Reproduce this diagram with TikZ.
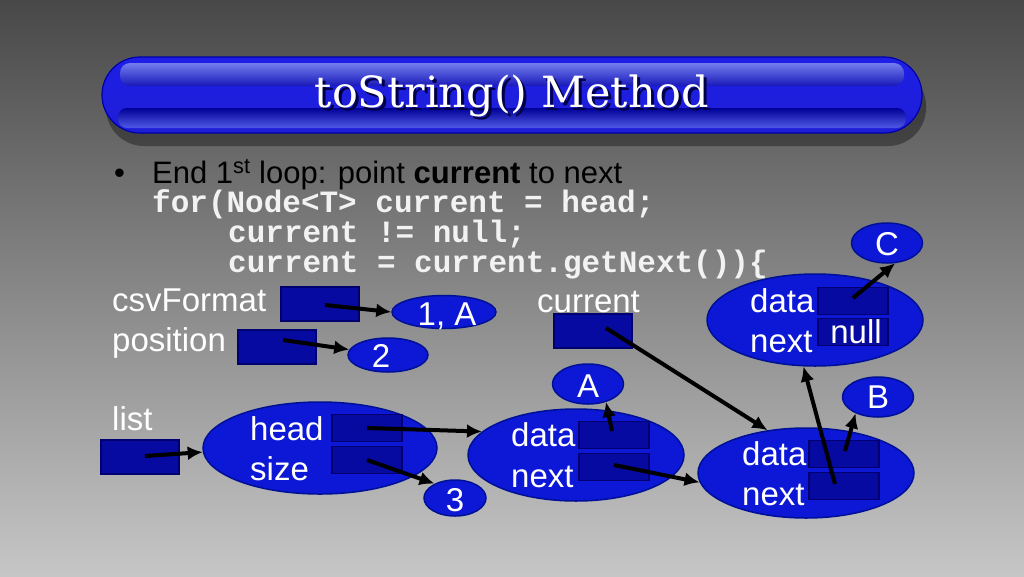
\documentclass[tikz,border=0pt]{standalone}
\usepackage{fontspec}
\setmainfont{Liberation Sans}
\newfontfamily\codefont{Liberation Mono}
\newfontfamily\titlefont{DejaVu Serif}
\usetikzlibrary{shapes.geometric,arrows.meta}
\definecolor{ellfill}{RGB}{12,24,214}
\definecolor{elldraw}{RGB}{0,16,150}
\definecolor{boxfill}{RGB}{6,10,160}
\definecolor{boxdraw}{RGB}{0,0,110}
\definecolor{tshadow}{RGB}{0,0,70}
\tikzset{
  ell/.style={ellipse, fill=ellfill, draw=elldraw, line width=1.5pt, inner sep=0pt},
  bigbox/.style={rectangle, fill=boxfill, draw=boxdraw, line width=1.5pt, minimum width=78pt, minimum height=34pt, inner sep=0pt},
  cell/.style={rectangle, fill=boxfill, draw=boxdraw, line width=1.5pt, minimum width=70pt, minimum height=27pt, inner sep=0pt},
  lbl/.style={anchor=base west, inner sep=0pt, text=white, font=\fontsize{33}{38}\selectfont},
  clbl/.style={anchor=base, inner sep=0pt, text=white, font=\fontsize{33}{38}\selectfont},
  ptr/.style={line width=4pt, -{Latex[length=15pt,width=14pt]}},
  codeline/.style={anchor=base west, inner sep=0pt, text={rgb,255:red,242;green,242;blue,242}, font=\codefont\bfseries\fontsize{31}{36}\selectfont},
}
\begin{document}
\begin{tikzpicture}[x=1pt,y=-1pt]
\useasboundingbox (0,0) rectangle (1024,576);
% background
\shade[top color={rgb,255:red,72;green,72;blue,72}, bottom color={rgb,255:red,198;green,198;blue,198}] (0,0) rectangle (1024,576);
% title bar
\fill[black,opacity=0.35,rounded corners=38pt] (106,68) rectangle (926,146);
\shade[rounded corners=38pt, top color={rgb,255:red,30;green,30;blue,230}, middle color={rgb,255:red,0;green,0;blue,150}, bottom color={rgb,255:red,30;green,30;blue,215}] (102,57) rectangle (922,133);
\draw[rounded corners=38pt, draw={rgb,255:red,0;green,0;blue,170}, line width=1.2pt] (102,57) rectangle (922,133);
\shade[rounded corners=10pt, top color={rgb,255:red,115;green,125;blue,238}, bottom color={rgb,255:red,25;green,25;blue,185}] (120,63) rectangle (904,86);
\shade[rounded corners=9pt, top color={rgb,255:red,0;green,0;blue,150}, bottom color={rgb,255:red,80;green,90;blue,230}] (118,108) rectangle (906,128);
\node[inner sep=0pt, text=white, font=\titlefont\fontsize{43}{48}\selectfont] (title) at (512,97)
  {\rlap{\hspace{3pt}\raisebox{-3pt}{\textcolor{tshadow}{toString() Method}}}toString() Method};
% bullet and code
\node[anchor=base west, inner sep=0pt, text=black, font=\fontsize{31}{36}\selectfont] (bul) at (114,183) {\textbullet};
\node[anchor=base west, inner sep=0pt, text=black, font=\fontsize{31}{36}\selectfont] (bultext) at (152,183) {End 1\textsuperscript{st} loop: point \textbf{current} to next};
\node[codeline] (code1) at (152,212) {for(Node<T> current = head;};
\node[codeline] (code2) at (228,242) {current != null;};
\node[codeline] (code3) at (228,272) {current = current.getNext())\{};
% ellipses
\node[ell, minimum width=104pt, minimum height=33pt] (oneA) at (444,312) {};
\node[ell, minimum width=80pt, minimum height=34pt] (two) at (388,355) {};
\node[ell, minimum width=62pt, minimum height=36pt] (three) at (455,498) {};
\node[ell, minimum width=71pt, minimum height=40pt] (Aell) at (588,384) {};
\node[ell, minimum width=71pt, minimum height=40pt] (Bell) at (878,397) {};
\node[ell, minimum width=71pt, minimum height=40pt] (Cell) at (887,243) {};
\node[ell, minimum width=234pt, minimum height=92pt] (hs) at (320,448) {};
\node[ell, minimum width=216pt, minimum height=92pt] (mid) at (576,455) {};
\node[ell, minimum width=216pt, minimum height=90pt] (br) at (806,473) {};
\node[ell, minimum width=216pt, minimum height=92pt] (top) at (815,320) {};
% boxes
\node[bigbox] (csvbox) at (320,304) {};
\node[bigbox] (posbox) at (277,347) {};
\node[bigbox] (listbox) at (140,457) {};
\node[bigbox] (curbox) at (593,331) {};
\node[cell] (headbox) at (367,428) {};
\node[cell] (sizebox) at (367,460) {};
\node[cell] (middata) at (614,435) {};
\node[cell] (midnext) at (614,467) {};
\node[cell] (brdata) at (844,454) {};
\node[cell] (brnext) at (844,486) {};
\node[cell] (topdata) at (853,301) {};
\node[cell] (topnext) at (853,332) {};
% labels
\node[lbl] (tcsv) at (112,311) {csvFormat};
\node[lbl] (tpos) at (112,351) {position};
\node[lbl] (tlist) at (112,430) {list};
\node[lbl] (tcur) at (537,312) {current};
\node[lbl] (thead) at (250,440) {head};
\node[lbl] (tsize) at (250,480) {size};
\node[lbl] (tmd) at (511,446) {data};
\node[lbl] (tmn) at (511,487) {next};
\node[lbl] (tbd) at (742,465) {data};
\node[lbl] (tbn) at (742,505) {next};
\node[lbl] (ttd) at (750,312) {data};
\node[lbl] (ttn) at (750,352) {next};
\node[clbl] (tnull) at (856,343) {null};
\node[clbl] (t1A) at (447,325) {1, A};
\node[clbl] (t2) at (381,367) {2};
\node[clbl] (t3) at (455,511) {3};
\node[clbl] (tA) at (588,397) {A};
\node[clbl] (tB) at (878,408) {B};
\node[clbl] (tC) at (887,255) {C};
% pointers
\draw[ptr] ([shift={(5,1)}]csvbox.center) -- (oneA.west);
\draw[ptr] ([shift={(6,-7)}]posbox.center) -- (two.172);
\draw[ptr] ([shift={(5,-1)}]listbox.center) -- (hs.182);
\draw[ptr] (headbox.center) -- (mid.166);
\draw[ptr] (sizebox.center) -- (three.145);
\draw[ptr] ([shift={(-2,-4)}]middata.center) -- (Aell.-45);
\draw[ptr] ([shift={(0,-2)}]midnext.center) -- (br.185);
\draw[ptr] ([shift={(13,-3)}]curbox.center) -- (br.132);
\draw[ptr] ([shift={(1,-3)}]brdata.center) -- (Bell.216);
\draw[ptr] ([shift={(-9,-2)}]brnext.center) -- (top.256);
\draw[ptr] ([shift={(0,-3)}]topdata.center) -- (Cell.-68);
\end{tikzpicture}
\end{document}
